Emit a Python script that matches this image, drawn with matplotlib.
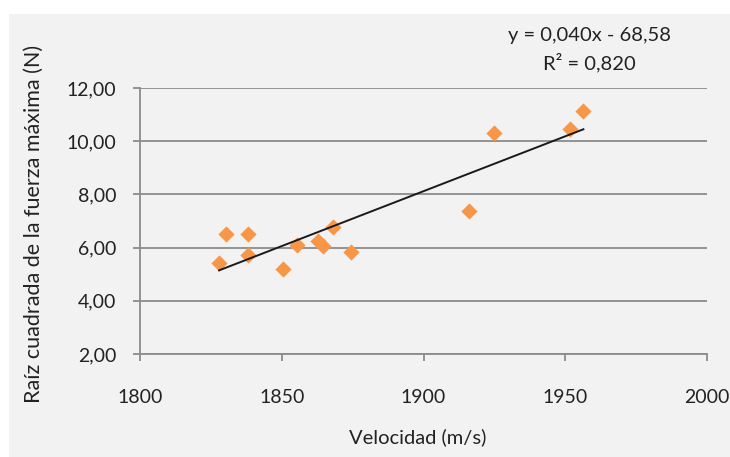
import numpy as np
import matplotlib.pyplot as plt
from matplotlib.patches import Rectangle

plt.rcParams['font.family'] = ['Lato', 'DejaVu Sans']

# ******************* data *******************
velocidad = [1827.9, 1830.3, 1838.2, 1838.2, 1850.5, 1855.3, 1862.9, 1864.7,
             1868.2, 1874.3, 1916.0, 1925.0, 1951.7, 1956.4]
raiz_fuerza = [5.43, 6.51, 6.51, 5.71, 5.18, 6.10, 6.25, 6.06,
               6.76, 5.84, 7.38, 10.30, 10.46, 11.15]
x_ticks = [1800, 1850, 1900, 1950, 2000]
y_ticks = [2, 4, 6, 8, 10, 12]
ecuacion = "y = 0,040x - 68,58"
r2_texto = "R\u00b2 = 0,820"

# ******************* figure *******************
fig = plt.figure(figsize=(7.3, 4.57), dpi=100, facecolor='white')
fig.patches.append(Rectangle((9 / 730, 0), 1, 1 - 14 / 457, transform=fig.transFigure,
                             facecolor='#f2f2f2', edgecolor='none', zorder=-5))
ax = fig.add_axes([140 / 730, 1 - 354 / 457, 567 / 730, 266 / 457])
ax.patch.set_alpha(0)

ax.scatter(velocidad, raiz_fuerza, marker='D', s=68, color='#f79646', zorder=3, linewidths=0)

# linear trendline over the data range
m, b = np.polyfit(velocidad, raiz_fuerza, 1)
xs = np.array([min(velocidad), max(velocidad)])
ax.plot(xs, m * xs + b, color='#1a1a1a', lw=1.4, zorder=4)

ax.set_xlim(1800, 2000)
ax.set_ylim(2, 12)
ax.set_xticks(x_ticks)
ax.set_yticks(y_ticks)
ax.set_yticklabels([f"{v:.2f}".replace('.', ',') for v in y_ticks])
ax.grid(axis='y', color='#8c8c8c', lw=1.3)
ax.set_axisbelow(True)

for s in ['top', 'right']:
    ax.spines[s].set_visible(False)
for s in ['left', 'bottom']:
    ax.spines[s].set_color('#8c8c8c')
    ax.spines[s].set_linewidth(1.3)
ax.tick_params(colors='#8c8c8c', labelcolor='#222222', labelsize=14, length=5, width=1.3)
ax.tick_params(axis='x', pad=20)
ax.tick_params(axis='y', pad=12)

fig.text(418 / 730, 1 - 437 / 457, "Velocidad (m/s)", ha='center', va='center',
         fontsize=14.5, color='#222222')
fig.text(34 / 730, 1 - 224 / 457, "Ra\u00edz cuadrada de la fuerza m\u00e1xima (N)",
         rotation=90, ha='center', va='center', fontsize=15.5, color='#222222')

fig.text(589 / 730, 1 - 36 / 457, ecuacion, ha='center', va='center', fontsize=14.5, color='#222222')
fig.text(589 / 730, 1 - 63 / 457, r2_texto, ha='center', va='center', fontsize=14.5, color='#222222')

fig.savefig('out.png', dpi=100, facecolor='white')
